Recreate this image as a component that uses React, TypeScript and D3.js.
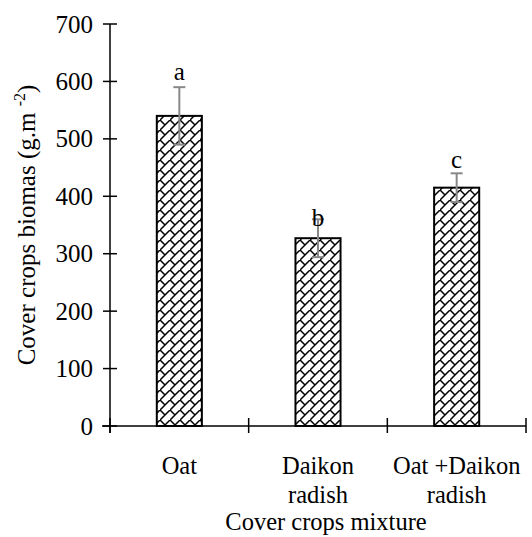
import React from "react";
import * as d3 from "d3";

const categories = ["Oat", "Daikon radish", "Oat +Daikon radish"];
const categoryLines = [["Oat"], ["Daikon", "radish"], ["Oat +Daikon", "radish"]];
const biomass = [540, 327, 415];
const errors = [50, 33, 25];
const letters = ["a", "b", "c"];
const yTicks = [0, 100, 200, 300, 400, 500, 600, 700];

const FONT = "'Liberation Serif', 'Times New Roman', serif";

export default function App() {
  const W = 532, H = 537;
  const left = 110, right = 526, top = 24, bottom = 426;
  const x = d3.scaleBand<string>().domain(categories).range([left, right]).paddingInner(0.675).paddingOuter(0.3375);
  const y = d3.scaleLinear().domain([0, 700]).range([bottom, top]);
  const step = x.step();
  const boundaries = d3.range(categories.length + 1).map((i) => left + i * step);
  const letterOffsets = [-7, 7, -5];
  const fs = 25;
  const fsb = 24.5;

  return (
    <svg width={W} height={H} style={{ position: "absolute", left: 0, top: 0, background: "#fff", fontFamily: FONT }}>
      <defs>
        <pattern id="brick" width={10} height={10} patternUnits="userSpaceOnUse">
          <rect width={10} height={10} fill="#fff" />
          <path d="M-1,11 L11,-1 M0,0 L5,5" stroke="#000" strokeWidth={1.5} fill="none" />
        </pattern>
      </defs>
      {categories.map((c, i) => (
        <rect key={c} x={x(c)} y={y(biomass[i])} width={x.bandwidth()} height={y(0) - y(biomass[i])}
          fill="url(#brick)" stroke="#000" strokeWidth={2} />
      ))}
      {categories.map((c, i) => {
        const cx = (x(c) as number) + x.bandwidth() / 2;
        const hi = y(biomass[i] + errors[i]);
        const lo = y(biomass[i] - errors[i]);
        return (
          <g key={c} stroke="#888" strokeWidth={2}>
            <line x1={cx} x2={cx} y1={hi} y2={lo} />
            <line x1={cx - 6} x2={cx + 6} y1={hi} y2={hi} />
            <line x1={cx - 6} x2={cx + 6} y1={lo} y2={lo} />
          </g>
        );
      })}
      {categories.map((c, i) => {
        const cx = (x(c) as number) + x.bandwidth() / 2;
        return (
          <text key={c} x={cx} y={y(biomass[i] + errors[i]) + letterOffsets[i]} fontSize={fs} textAnchor="middle" fill="#000" fontFamily={FONT}>
            {letters[i]}
          </text>
        );
      })}
      <line x1={left} x2={left} y1={top} y2={bottom + 7} stroke="#000" strokeWidth={1.5} />
      <line x1={left - 8} x2={right} y1={bottom} y2={bottom} stroke="#000" strokeWidth={1.5} />
      {yTicks.map((t) => (
        <g key={t}>
          <line x1={left - 7} x2={left + 7} y1={y(t)} y2={y(t)} stroke="#000" strokeWidth={1.5} />
          <text x={left - 17} y={y(t) + 8.5} fontSize={fs} textAnchor="end" fill="#000" fontFamily={FONT}>{t}</text>
        </g>
      ))}
      {boundaries.map((b, i) => (
        <line key={i} x1={b} x2={b} y1={bottom - 8} y2={bottom + 7} stroke="#000" strokeWidth={1.5} />
      ))}
      {categories.map((c, i) => {
        const cx = (x(c) as number) + x.bandwidth() / 2;
        return (
          <text key={c} x={cx} fontSize={fsb} textAnchor="middle" fill="#000" fontFamily={FONT}>
            {categoryLines[i].map((l, j) => (
              <tspan key={j} x={cx} y={474 + j * 29}>{l}</tspan>
            ))}
          </text>
        );
      })}
      <text x={(left + right) / 2 + 8} y={530} fontSize={fsb} textAnchor="middle" fill="#000" fontFamily={FONT}>Cover crops mixture</text>
      <text transform={`translate(35, ${(top + bottom) / 2}) rotate(-90)`} fontSize={fs} textAnchor="middle" fill="#000" fontFamily={FONT}>
        Cover crops biomas (g.m <tspan dy={-10} fontSize={16}>-2</tspan><tspan dy={10}>)</tspan>
      </text>
    </svg>
  );
}
